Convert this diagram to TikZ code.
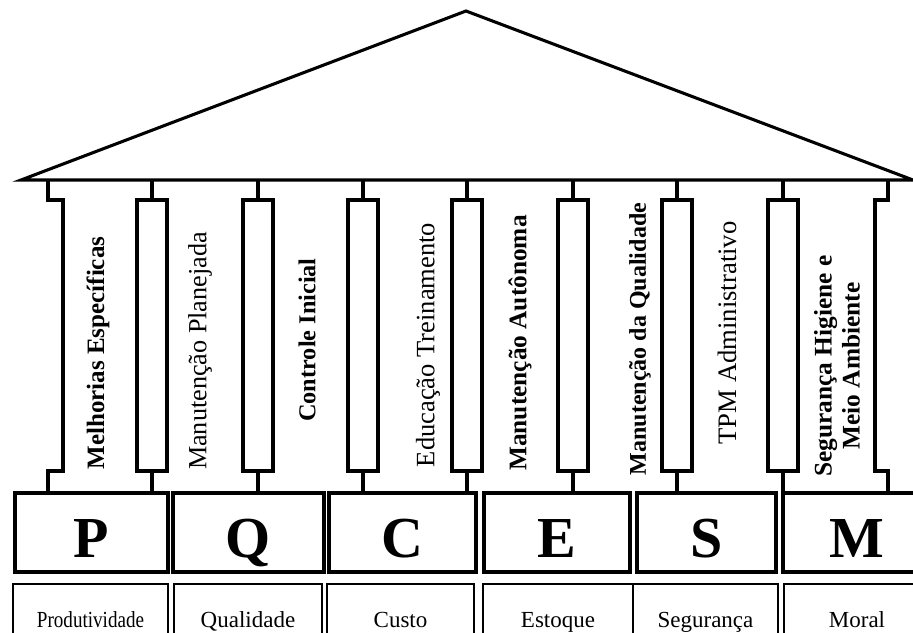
\documentclass[tikz,border=0pt]{standalone}
\usepackage{fontspec}
\setmainfont{Liberation Serif}
\begin{document}
\begin{tikzpicture}[x=0.75pt,y=-0.75pt,
  main/.style={line width=2.3pt, line join=miter},
  bar/.style={draw, main, minimum width=22.5pt, minimum height=203.25pt, inner sep=0pt},
  letterbox/.style={draw, main, minimum height=59.25pt, inner sep=0pt,
    font=\fontsize{43.5}{50}\selectfont\bfseries, text height=36.9pt, text depth=0pt},
  namebox/.style={draw, line width=1.4pt, minimum height=57pt, inner sep=0pt,
    font=\fontsize{17.25}{20}\selectfont, text height=12pt, text depth=4.5pt},
  pillartext/.style={rotate=90, inner sep=0pt, align=center},
  boldtext/.style={font=\bfseries\fontsize{#1}{21}\selectfont},
  plaintext/.style={font=\fontsize{#1}{21}\selectfont}
]
\useasboundingbox (0,0) rectangle (913,632);
\clip (0,0) rectangle (913,632);

% roof
\coordinate (roofL) at (21,180);
\coordinate (roofR) at (913,180);
\coordinate (apex) at (466,11);
\draw[main] (roofL) -- (apex) -- (roofR) -- cycle;

% pillar bases with the letters
\node[letterbox, minimum width=114.75pt] (P) at (91.5,532.5) {P};
\node[letterbox, minimum width=113.25pt] (Q) at (248.5,532.5) {Q};
\node[letterbox, minimum width=110.25pt] (C) at (402.5,532.5) {C};
\node[letterbox, minimum width=109.5pt]  (E) at (557,532.5) {E};
\node[letterbox, minimum width=104.25pt] (S) at (706.5,532.5) {S};
\node[letterbox, minimum width=110.25pt] (M) at (856.5,532.5) {M};

% name boxes
\node[namebox, minimum width=116.25pt] (nP) at (90.5,622) {\scalebox{0.83}[1]{Produtividade}};
\node[namebox, minimum width=111pt]    (nQ) at (248,622) {Qualidade};
\node[namebox, minimum width=110.25pt] (nC) at (400.5,622) {Custo};
\node[namebox, minimum width=112.5pt]  (nE) at (558,622) {Estoque};
\node[namebox, minimum width=108.75pt] (nS) at (705.5,622) {Segurança};
\node[namebox, minimum width=109.5pt]  (nM) at (857,622) {Moral};

% column bars
\node[bar] (b1) at (152,335.5) {};
\node[bar] (b2) at (258,335.5) {};
\node[bar] (b3) at (363,335.5) {};
\node[bar] (b4) at (467,335.5) {};
\node[bar] (b5) at (573,335.5) {};
\node[bar] (b6) at (677,335.5) {};
\node[bar] (b7) at (783,335.5) {};

% stubs joining bars to roof and bases
\foreach \b/\base in {b1/P, b2/Q, b3/C, b4/C, b5/E, b6/S, b7/M}{
  \draw[main] (\b.north) -- (\b.north |- roofL);
  \draw[main] (\b.south) -- (\b.south |- \base.north);
}

% outer edges of the colonnade
\coordinate (lbTop) at (48,180);
\draw[main] (lbTop) -- ++(0,20) -- ++(15,0) -- ++(0,271) -- ++(-15,0) -- (P.north -| lbTop);
\coordinate (rbTop) at (888,180);
\draw[main] (rbTop) -- ++(0,20) -- ++(-13,0) -- ++(0,271) -- ++(13,0) -- (M.north -| rbTop);

% pillar names
\node[pillartext, boldtext=18.75]  (t1) at (98,353)  {Melhorias Específicas};
\node[pillartext, plaintext=19.65] (t2) at (200,351) {Manutenção Planejada};
\node[pillartext, boldtext=18.2]   (t3) at (307,340) {Controle Inicial};
\node[pillartext, plaintext=19.9]  (t4) at (428,345) {Educação Treinamento};
\node[pillartext, boldtext=19]     (t5) at (520,343) {Manutenção Autônoma};
\node[pillartext, boldtext=18]     (t6) at (640,339) {Manutenção da Qualidade};
\node[pillartext, plaintext=20]    (t7) at (727,333) {TPM Administrativo};
\node[pillartext, boldtext=19]     (t8) at (837,366) {Segurança Higiene e\\Meio Ambiente};
\end{tikzpicture}
\end{document}
